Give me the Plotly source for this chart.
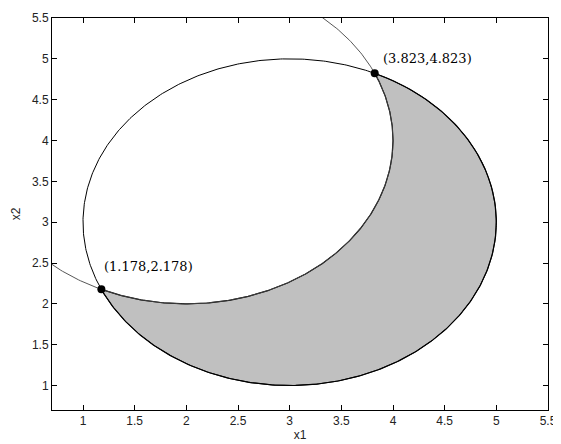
import numpy as np
import plotly.graph_objects as go

# Circle definitions (center x, center y, radius)
circle_feasible = {"cx": 3.0, "cy": 3.0, "r": 2.0}   # (x1-3)^2+(x2-3)^2 = 4
circle_excluded = {"cx": 2.0, "cy": 4.0, "r": 2.0}   # (x1-2)^2+(x2-4)^2 = 4

# Intersection points
pts_x = [1.178, 3.823]
pts_y = [2.178, 4.823]
pts_labels = ["(1.178,2.178)", "(3.823,4.823)"]

tick_vals = [1, 1.5, 2, 2.5, 3, 3.5, 4, 4.5, 5, 5.5]
tick_text = ["1", "1.5", "2", "2.5", "3", "3.5", "4", "4.5", "5", "5.5"]


def arc(c, a0, a1, n=300):
    t = np.radians(np.linspace(a0, a1, n))
    return c["cx"] + c["r"] * np.cos(t), c["cy"] + c["r"] * np.sin(t)


def ang(c, x, y):
    return np.degrees(np.arctan2(y - c["cy"], x - c["cx"]))


# shaded region: inside circle 1, outside circle 2
a1_start = ang(circle_feasible, pts_x[1], pts_y[1])
a1_end = ang(circle_feasible, pts_x[0], pts_y[0])
a2_start = ang(circle_excluded, pts_x[0], pts_y[0])
a2_end = ang(circle_excluded, pts_x[1], pts_y[1])
xa, ya = arc(circle_feasible, a1_start, a1_end)
xb, yb = arc(circle_excluded, a2_start, a2_end)
fill_x = np.concatenate([xa, xb])
fill_y = np.concatenate([ya, yb])

fig = go.Figure()
fig.add_trace(go.Scatter(x=fill_x, y=fill_y, mode="lines", fill="toself",
                         fillcolor="#c0c0c0", line=dict(color="black", width=1.2),
                         hoverinfo="skip", showlegend=False))
cx1, cy1 = arc(circle_feasible, 0, 360, 600)
fig.add_trace(go.Scatter(x=cx1, y=cy1, mode="lines",
                         line=dict(color="black", width=1), showlegend=False))
cx2, cy2 = arc(circle_excluded, 0, 360, 600)
fig.add_trace(go.Scatter(x=cx2, y=cy2, mode="lines",
                         line=dict(color="#444444", width=0.9), showlegend=False))
fig.add_trace(go.Scatter(x=pts_x, y=pts_y, mode="markers",
                         marker=dict(color="black", size=8), showlegend=False))

for x, y, lab, xs, ys in zip(pts_x, pts_y, pts_labels, [1, 6], [23, 15]):
    fig.add_annotation(x=x, y=y, text=lab, showarrow=False, xanchor="left",
                       yanchor="middle", xshift=xs, yshift=ys,
                       font=dict(family="DejaVu Serif", size=13, color="black"))

axis_common = dict(range=[0.7, 5.5], tickvals=tick_vals, ticktext=tick_text,
                   ticks="inside", ticklen=5, tickcolor="black",
                   showline=True, linecolor="black", linewidth=1, mirror="ticks",
                   showgrid=False, zeroline=False, automargin=False,
                   tickfont=dict(family="Liberation Sans, Arial", size=12, color="#222"))
fig.update_xaxes(**axis_common, title=dict(text="x1", standoff=3,
                 font=dict(family="Liberation Sans, Arial", size=12, color="#222")))
fig.update_yaxes(**axis_common, title=dict(text="x2", standoff=8,
                 font=dict(family="Liberation Sans, Arial", size=12, color="#222")))
fig.update_layout(width=553, height=436, margin=dict(l=44, r=13, t=10, b=34),
                  plot_bgcolor="white", paper_bgcolor="white")
fig.write_html("out.html")
